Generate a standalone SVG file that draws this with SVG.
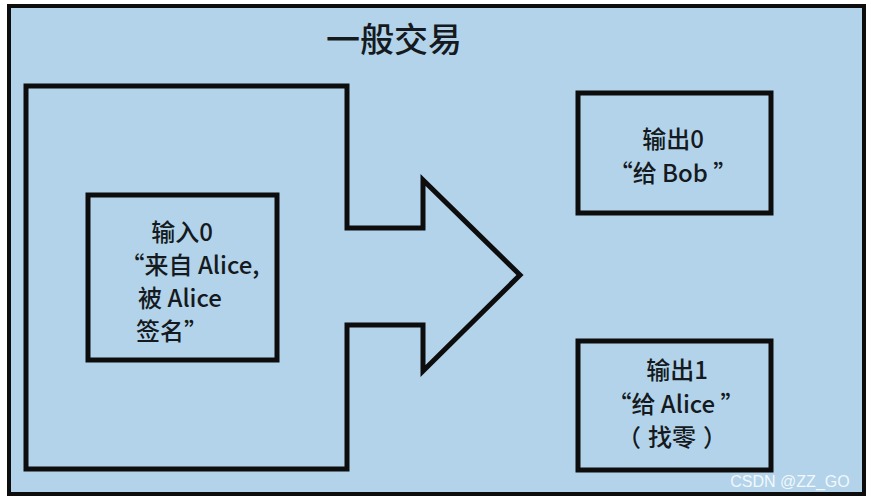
<svg xmlns="http://www.w3.org/2000/svg" width="871" height="501" viewBox="0 0 871 501">
<style>
.box{fill:#b3d3ea;stroke:#0d0d0d;stroke-width:5;stroke-linejoin:miter}
.t{font-family:"Noto Sans CJK SC","Noto Sans",sans-serif;fill:#141a20;text-anchor:middle}
.lbl{font-size:24px;font-weight:500}
</style>
<rect width="871" height="501" fill="#ffffff"/>
<g id="transaction">
<rect x="9" y="6" width="855" height="488" fill="#b3d3ea" stroke="#0d0d0d" stroke-width="4"/>
<text class="t" x="394" y="52" font-size="34" font-weight="500">一般交易</text>
</g>
<g id="connectors">
<path class="box" d="M26,86 H347 V228 H423 V180 L520,275 L423,371 V325 H347 V469 H26 Z"/>
</g>
<g id="input0">
<rect class="box" x="88" y="195" width="189" height="165"/>
<text class="t lbl" x="182" y="241">输入0</text>
<text class="t lbl" x="190" y="274">“来自 Alice,</text>
<text class="t lbl" x="180" y="307">被 Alice</text>
<text class="t lbl" x="172" y="340">签名”</text>
</g>
<g id="output0">
<rect class="box" x="578" y="93" width="193" height="120"/>
<text class="t lbl" x="673" y="148">输出0</text>
<text class="t lbl" x="673" y="182">“给 Bob ”</text>
</g>
<g id="output1">
<rect class="box" x="578" y="341" width="193" height="129"/>
<text class="t lbl" x="677" y="379">输出1</text>
<text class="t lbl" x="676" y="413">“给 Alice ”</text>
<text class="t lbl" x="672" y="446"><tspan>（</tspan><tspan dx="7">找零</tspan><tspan dx="7">）</tspan></text>
</g>
<text x="790" y="487" font-family="'Liberation Sans',sans-serif" font-size="16" fill="#ffffff" fill-opacity="0.85" text-anchor="middle">CSDN @ZZ_GO</text>
</svg>
